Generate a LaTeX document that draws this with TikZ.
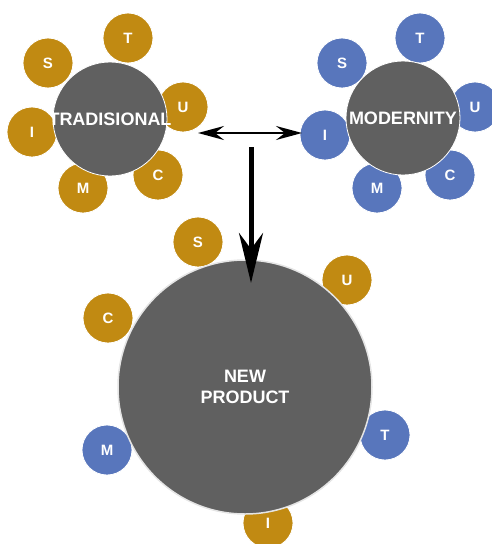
\documentclass[tikz,border=0pt]{standalone}
\usepackage{fontspec}
\setmainfont{Liberation Sans}
\usepackage{xcolor}
\usetikzlibrary{arrows.meta}

\definecolor{goldc}{RGB}{193,138,18}
\definecolor{bluec}{RGB}{88,118,188}
\definecolor{grayc}{RGB}{96,96,96}

\begin{document}
\begin{tikzpicture}[x=1pt, y=-1pt,
    hub/.style={circle, fill=grayc, draw=white, line width=0.8pt, inner sep=0pt,
                text=white, font=\bfseries\fontsize{18}{21}\selectfont, align=center},
    gold/.style={circle, fill=goldc, draw=white, line width=0.8pt, minimum size=50pt,
                 inner sep=0pt, text=white, font=\bfseries\fontsize{15}{18}\selectfont},
    blue/.style={gold, fill=bluec}]

        \useasboundingbox (0,0) rectangle (492,544);

        % Tradisional cluster (satellites behind the hub)
        \foreach \l/\x/\y in {T/128/38, S/48/63, U/183/107, I/32/132, M/83/188, C/158/175}
            \node[gold] (t\l) at (\x,\y) {\l};
        \node[hub, minimum size=114pt] (trad) at (110,119) {};

        % Modernity cluster
        \foreach \l/\x/\y in {T/420/38, S/342/63, U/475/107, I/325/135, M/377/188, C/450/175}
            \node[blue] (m\l) at (\x,\y) {\l};
        \node[hub, minimum size=114pt] (mod) at (403,118) {};

        % New product and its mixed satellites
        \node[gold] (pS) at (198,242) {S};
        \node[gold] (pU) at (347,280) {U};
        \node[gold] (pC) at (108,318) {C};
        \node[blue] (pM) at (107,450) {M};
        \node[blue] (pT) at (385,435) {T};
        \node[gold] (pI) at (268,523) {I};
        \node[hub, minimum size=254pt, draw=gray!20, line width=1.5pt] (prod) at (245,387) {NEW\\PRODUCT};

        % hub labels on top of everything
        \node[text=white, font=\bfseries\fontsize{18}{21}\selectfont] at (trad) {TRADISIONAL};
        \node[text=white, font=\bfseries\fontsize{18}{21}\selectfont] at (mod) {MODERNITY};

        % Arrows
        \coordinate (left) at (198,133);
        \coordinate (right) at (302,133);
        \coordinate (top) at (251,147);
        \coordinate (into) at (251,283);
        \draw[{Stealth[length=26pt,width=14pt,inset=9pt]}-{Stealth[length=26pt,width=14pt,inset=9pt]}, line width=2pt] (left) -- (right);
        \draw[-{Stealth[length=50pt,width=24pt,inset=16pt]}, line width=5pt] (top) -- (into);

      \end{tikzpicture}
\end{document}
